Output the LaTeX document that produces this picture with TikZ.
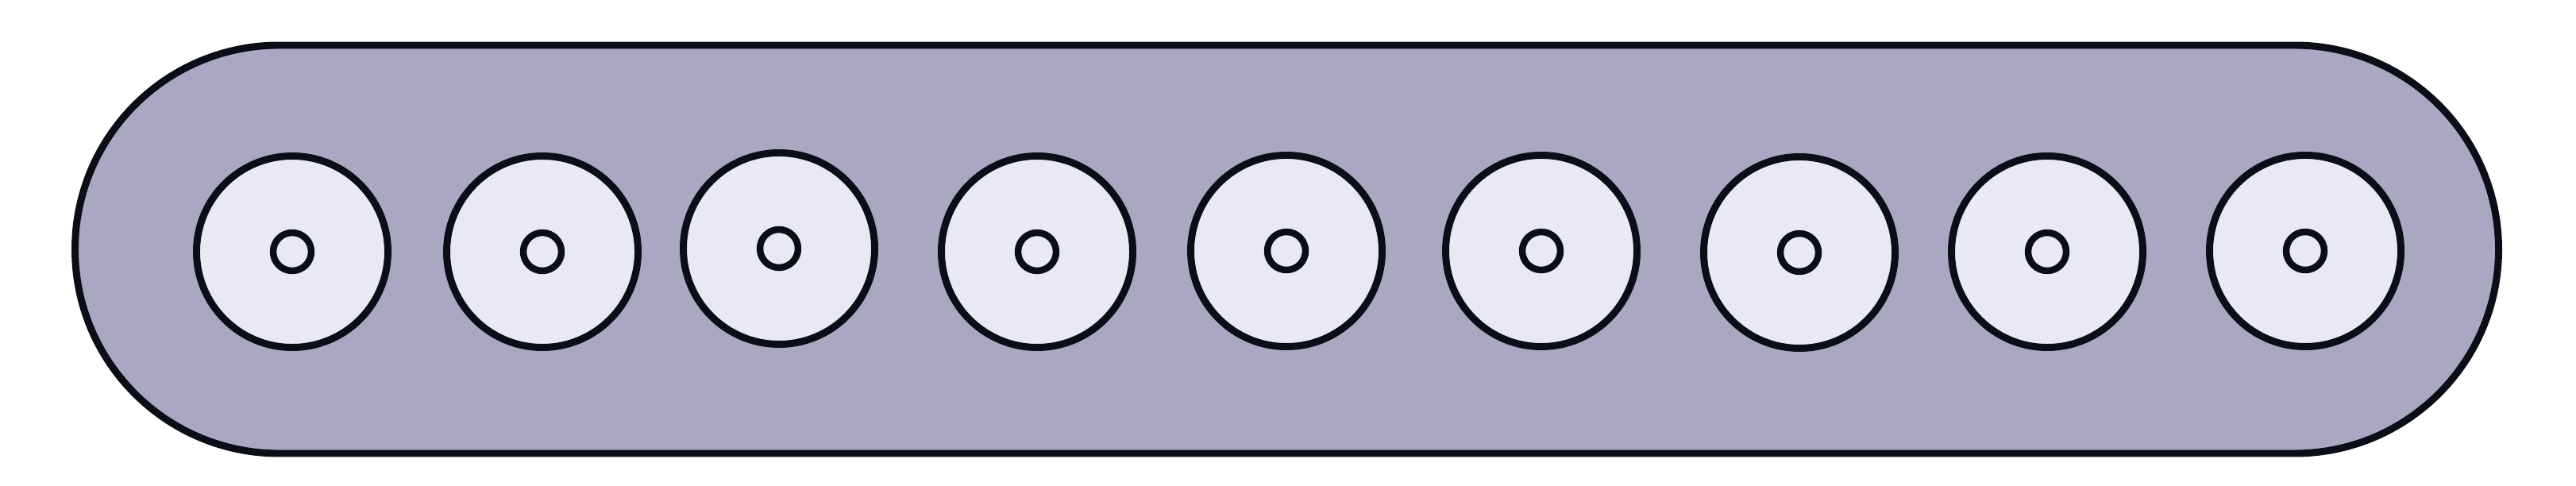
\documentclass[tikz,border=0pt]{standalone}
\usetikzlibrary{positioning}
\definecolor{boardfill}{HTML}{AAA7C3}
\definecolor{holefill}{HTML}{E9E9F3}
\definecolor{inkline}{HTML}{0B0E16}
\tikzset{
    board/.style={draw=inkline, fill=boardfill, line width=2.55pt, line join=round},
    hole/.style={circle, draw=inkline, fill=holefill, line width=2.55pt, minimum size=2.41cm, inner sep=0pt},
    pin/.style={circle, draw=inkline, fill=holefill, line width=2.4pt, minimum size=0.48cm, inner sep=0pt}
}
\begin{document}
\begin{tikzpicture}
        \useasboundingbox (0,0) rectangle (32.44,6.12);
        % Rounded strip
        \draw[board] (3.515,5.55) -- (28.895,5.55)
            arc[start angle=90, end angle=-90, radius=2.57]
            -- (3.515,0.41)
            arc[start angle=270, end angle=90, radius=2.57] -- cycle;
        % Holes with centre pins
        \foreach \x/\y [count=\i] in {3.68/2.95,6.83/2.95,9.81/2.99,13.06/2.95,16.20/2.96,19.41/2.96,22.66/2.94,25.78/2.95,29.03/2.96} {
            \node[hole] (hole\i) at (\x,\y) {};
            \node[pin] (pin\i) at (hole\i.center) {};
        }
\end{tikzpicture}
\end{document}
